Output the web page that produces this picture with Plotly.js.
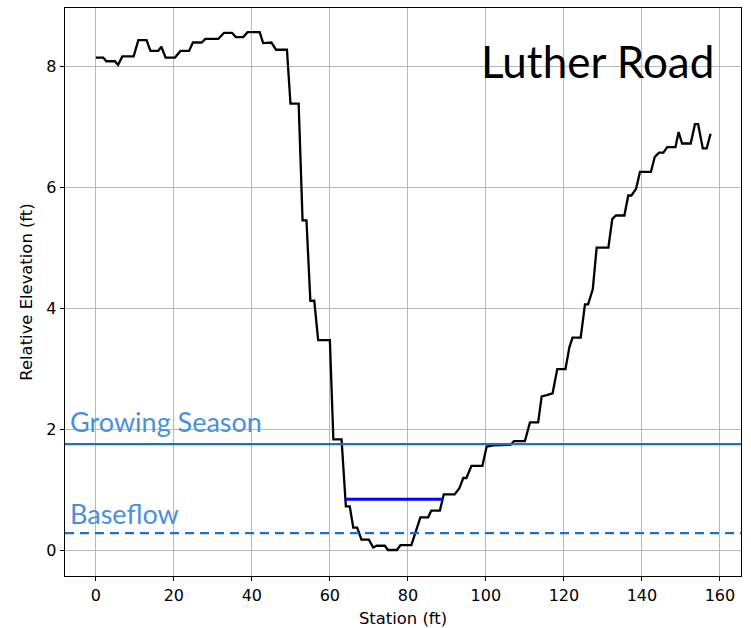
<!DOCTYPE html>
<html>
<head>
<meta charset="utf-8">
<script src="https://cdn.plot.ly/plotly-3.0.1.min.js"></script>
<style>
html,body{margin:0;padding:0;background:#fff;}
#chart{width:751px;height:628px;}
</style>
</head>
<body>
<div id="chart"></div>
<script>
// Ground profile (station ft, relative elevation ft)
const station = [
  0, 1.9, 2.7, 4.9, 5.7, 6.8, 9.7, 10.9, 13, 14,
  16, 16.8, 17.9, 20.3, 21.7, 23.9, 24.9, 27.1, 28.1, 31.4,
  32.9, 34.9, 35.9, 37.8, 38.9, 42, 42.9, 43.9, 45, 46.2,
  49, 49.9, 52, 53, 54, 55, 56, 57, 60, 60.9,
  63, 64.1, 65.1, 66, 67, 68.1, 70, 71.1, 72, 74.1,
  74.9, 77.2, 78.1, 80.9, 83.2, 85.2, 86, 88.2, 89.2, 92,
  93.2, 94.2, 95, 96.3, 99.1, 100.2, 101.9, 106.4, 107.2, 110,
  111.3, 113.4, 114.3, 115.6, 117.1, 118.3, 120.4, 121.4, 122.2, 124.3,
  125.4, 126.2, 127.4, 128.4, 131.4, 132.4, 133.3, 135.5, 136.5, 137.3,
  138.5, 139.5, 142.3, 143.3, 144.4, 145.5, 146.5, 148.6, 149.4, 150.3,
  152.5, 153.6, 154.4, 155.6, 156.6, 157.6
];
const elevation = [
  8.15, 8.15, 8.09, 8.09, 8.03, 8.17, 8.17, 8.44, 8.44, 8.26,
  8.26, 8.33, 8.15, 8.15, 8.26, 8.26, 8.40, 8.40, 8.46, 8.46,
  8.56, 8.56, 8.49, 8.49, 8.57, 8.57, 8.39, 8.40, 8.40, 8.28,
  8.28, 7.39, 7.39, 5.46, 5.46, 4.13, 4.13, 3.48, 3.48, 1.84,
  1.84, 0.73, 0.73, 0.38, 0.38, 0.18, 0.18, 0.05, 0.08, 0.08,
  0.01, 0.01, 0.09, 0.09, 0.55, 0.55, 0.66, 0.66, 0.93, 0.93,
  1.03, 1.20, 1.20, 1.40, 1.40, 1.72, 1.74, 1.75, 1.81, 1.81,
  2.12, 2.12, 2.55, 2.57, 2.60, 3.00, 3.00, 3.36, 3.52, 3.52,
  4.07, 4.07, 4.32, 5.01, 5.01, 5.48, 5.54, 5.54, 5.87, 5.87,
  5.98, 6.26, 6.26, 6.51, 6.58, 6.58, 6.67, 6.67, 6.92, 6.73,
  6.73, 7.05, 7.05, 6.65, 6.65, 6.89
];
// Water levels
const growingSeasonLevel = 1.76;
const baseflowLevel = 0.29;
const channelStation = [63.8, 89.0];
const channelLevel = [0.85, 0.85];

const siteName = "Luther Road";
const labelGrowing = "Growing Season";
const labelBaseflow = "Baseflow";

const xRange = [-7.9, 165.4];
const yRange = [-0.42, 8.97];

const lineBlue = "#1f6fc5";
const textBlue = "#4a8fdc";

const traces = [
  {x: station, y: elevation, type: "scatter", mode: "lines",
   line: {color: "#000000", width: 2.3}, hoverinfo: "skip"},
  {x: xRange, y: [growingSeasonLevel, growingSeasonLevel], type: "scatter", mode: "lines",
   line: {color: lineBlue, width: 2.2}},
  {x: xRange, y: [baseflowLevel, baseflowLevel], type: "scatter", mode: "lines",
   line: {color: lineBlue, width: 2.2, dash: "9px,6px"}},
  {x: channelStation, y: channelLevel, type: "scatter", mode: "lines",
   line: {color: "#0000ff", width: 3}}
];

const axisCommon = {
  showline: true, mirror: true, linecolor: "#000", linewidth: 1.3,
  ticks: "outside", ticklen: 4, tickwidth: 1, tickcolor: "#000",
  showgrid: true, gridcolor: "#b8b8b8", gridwidth: 1,
  zeroline: false,
  tickfont: {family: "DejaVu Sans", size: 16, color: "#000"}
};

const layout = {
  width: 751, height: 628,
  margin: {l: 65, r: 10, t: 8, b: 52},
  paper_bgcolor: "#fff", plot_bgcolor: "#fff",
  showlegend: false,
  xaxis: Object.assign({}, axisCommon, {
    range: xRange, dtick: 20, tick0: 0,
    title: {text: "Station (ft)", font: {family: "DejaVu Sans", size: 16.4, color: "#000"}, standoff: 10}
  }),
  yaxis: Object.assign({}, axisCommon, {
    range: yRange, dtick: 2, tick0: 0,
    title: {text: "Relative Elevation (ft)", font: {family: "DejaVu Sans", size: 16.4, color: "#000"}, standoff: 9}
  }),
  annotations: [
    {text: siteName, xref: "paper", yref: "paper", x: 0.963, y: 0.907,
     xanchor: "right", yanchor: "middle", showarrow: false,
     font: {family: "Lato", size: 44, color: "#000"}},
    {text: labelGrowing, xref: "x", yref: "y", x: xRange[0], y: growingSeasonLevel,
     xanchor: "left", yanchor: "bottom", showarrow: false, xshift: 3, yshift: 4,
     font: {family: "Lato", size: 27, color: textBlue}},
    {text: labelBaseflow, xref: "x", yref: "y", x: xRange[0], y: baseflowLevel,
     xanchor: "left", yanchor: "bottom", showarrow: false, xshift: 3, yshift: 1,
     font: {family: "Lato", size: 27, color: textBlue}}
  ]
};

Plotly.newPlot("chart", traces, layout, {displayModeBar: false, staticPlot: true});
</script>
</body>
</html>
